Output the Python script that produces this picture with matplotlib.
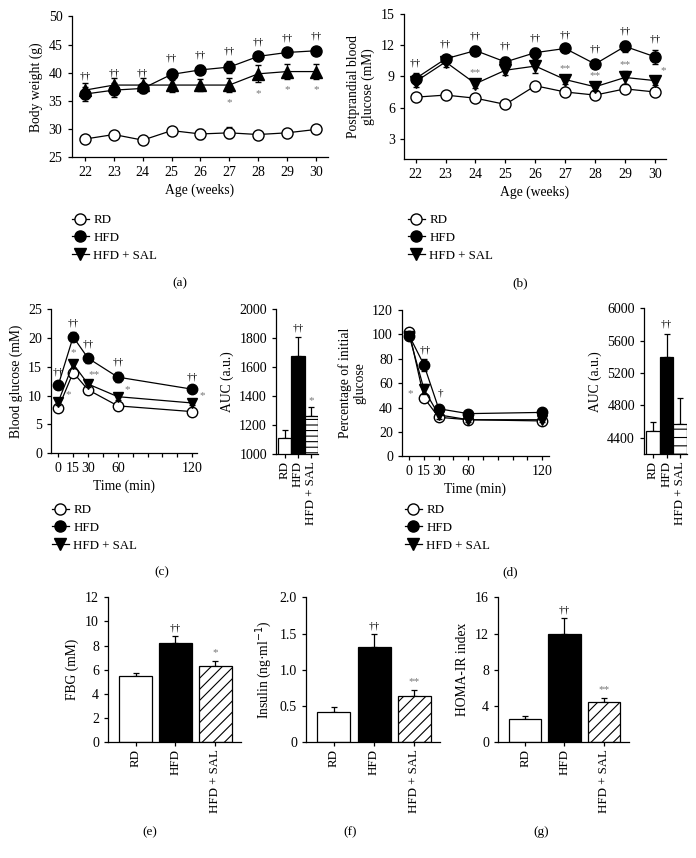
import numpy as np
import matplotlib
matplotlib.use("Agg")
import matplotlib.pyplot as plt
from matplotlib.lines import Line2D

plt.rcParams['font.family'] = ['Liberation Serif', 'DejaVu Serif']
plt.rcParams['font.size'] = 10
plt.rcParams['axes.labelsize'] = 9.8
plt.rcParams['xtick.labelsize'] = 10
plt.rcParams['ytick.labelsize'] = 10
plt.rcParams['hatch.linewidth'] = 0.8
plt.rcParams['axes.linewidth'] = 0.9
plt.rcParams['xtick.major.width'] = 0.9
plt.rcParams['ytick.major.width'] = 0.9
plt.rcParams['xtick.minor.width'] = 0.9
plt.rcParams['xtick.direction'] = 'out'
plt.rcParams['ytick.direction'] = 'out'
plt.rcParams['xtick.major.size'] = 3
plt.rcParams['ytick.major.size'] = 3
plt.rcParams['xtick.minor.size'] = 3

# ---------------- data ----------------
groups = ["RD", "HFD", "HFD + SAL"]

weeks = [22, 23, 24, 25, 26, 27, 28, 29, 30]
bw_rd = [28.2, 29.0, 28.0, 29.7, 29.1, 29.3, 29.0, 29.3, 29.9]
bw_rd_err = [0.5, 0.6, 0.5, 0.6, 0.9, 1.0, 0.6, 0.6, 0.5]
bw_hfd = [36.2, 36.9, 37.2, 39.7, 40.5, 41.0, 42.9, 43.6, 43.9]
bw_hfd_err = [1.3, 1.2, 0.9, 1.0, 0.8, 1.0, 0.7, 0.8, 0.7]
bw_sal = [36.9, 37.8, 37.8, 37.8, 37.8, 37.8, 39.8, 40.2, 40.2]
bw_sal_err = [1.2, 1.3, 1.3, 1.2, 1.1, 1.2, 1.5, 1.3, 1.3]
bw_star = ["", "", "", "", "", "*", "*", "*", "*"]

pg_rd = [7.0, 7.2, 6.9, 6.3, 8.1, 7.5, 7.2, 7.8, 7.5]
pg_rd_err = [0.3, 0.3, 0.3, 0.3, 0.4, 0.4, 0.3, 0.4, 0.3]
pg_hfd = [8.8, 10.7, 11.5, 10.4, 11.3, 11.7, 10.2, 11.9, 10.9]
pg_hfd_err = [0.5, 0.4, 0.4, 0.5, 0.4, 0.3, 0.4, 0.5, 0.7]
pg_sal = [8.5, 10.4, 8.3, 9.6, 10.0, 8.7, 8.0, 8.9, 8.6]
pg_sal_err = [0.5, 0.5, 0.4, 0.5, 0.7, 0.4, 0.4, 0.6, 0.4]
pg_star = ["", "", "**", "", "", "**", "**", "**", "*"]

ogtt_t = [0, 15, 30, 60, 120]
ogtt_rd = [7.8, 14.0, 11.0, 8.2, 7.2]
ogtt_rd_err = [0.5, 0.6, 0.5, 0.4, 0.4]
ogtt_hfd = [11.8, 20.2, 16.5, 13.2, 11.1]
ogtt_hfd_err = [0.6, 0.8, 0.8, 0.9, 0.5]
ogtt_sal = [8.9, 15.5, 12.0, 9.8, 8.7]
ogtt_sal_err = [0.6, 0.7, 0.6, 0.5, 0.4]
ogtt_star = ["*", "*", "**", "*", "*"]
ogtt_auc = [1110, 1680, 1266]
ogtt_auc_err = [55, 127, 58]
ogtt_auc_sig = ["", "††", "*"]

itt_t = [0, 15, 30, 60, 120]
itt_rd = [102, 48, 32, 30, 29]
itt_rd_err = [2, 3, 2, 2, 2]
itt_hfd = [99, 75, 39, 35, 36]
itt_hfd_err = [3, 5, 3, 2, 2]
itt_sal = [99, 55, 34, 30, 30]
itt_sal_err = [3, 4, 3, 2, 2]
itt_auc = [4483, 5394, 4569]
itt_auc_err = [115, 288, 320]
itt_auc_sig = ["", "††", ""]

fbg = [5.5, 8.2, 6.3]
fbg_err = [0.27, 0.6, 0.45]
fbg_sig = ["", "††", "*"]

insulin = [0.42, 1.32, 0.64]
insulin_err = [0.07, 0.17, 0.08]
insulin_sig = ["", "††", "**"]

homa = [2.55, 12.0, 4.4]
homa_err = [0.4, 1.7, 0.5]
homa_sig = ["", "††", "**"]

W, H = 696, 858
fig = plt.figure(figsize=(W / 100, H / 100), dpi=100)


def add_ax(l, r, t, b):
    ax = fig.add_axes([l / W, 1 - b / H, (r - l) / W, (b - t) / H])
    ax.spines['top'].set_visible(False)
    ax.spines['right'].set_visible(False)
    return ax


def series(ax, x, y, e, marker, face, ms=8, z=2):
    ax.errorbar(x, y, yerr=e, color='k', lw=0.9, marker=marker, mfc=face,
                mec='k', mew=1.0, ms=ms, capsize=2.2, elinewidth=0.9,
                capthick=0.9, zorder=z, clip_on=False)


def note(ax, x, y, s, dy, dx=0, color='k', size=8):
    ax.annotate(s, (x, y), xytext=(dx, dy), textcoords='offset points',
                ha='center', va='center', color=color, fontsize=size,
                annotation_clip=False)


GRAY = '#777777'

# ---------------- (a) ----------------
ax = add_ax(71.5, 328, 16.5, 157)
series(ax, weeks, bw_rd, bw_rd_err, 'o', 'white', z=2)
series(ax, weeks, bw_sal, bw_sal_err, '^', 'k', z=3)
series(ax, weeks, bw_hfd, bw_hfd_err, 'o', 'k', z=4)
ax.set_xlim(21.53, 30.42)
ax.set_ylim(25, 50)
ax.set_xticks(weeks)
ax.set_yticks(range(25, 51, 5))
ax.set_xlabel("Age (weeks)", labelpad=3)
ax.set_ylabel("Body weight (g)", labelpad=4)
for x, y, e in zip(weeks, bw_hfd, bw_hfd_err):
    note(ax, x, y + e, "††", 7.5)
for x, y, e, s in zip(weeks, bw_sal, bw_sal_err, bw_star):
    if s:
        note(ax, x, y - e, s, -8, color=GRAY)

# ---------------- (b) ----------------
ax = add_ax(404, 666, 14.3, 159.3)
series(ax, weeks, pg_rd, pg_rd_err, 'o', 'white', z=2)
series(ax, weeks, pg_sal, pg_sal_err, 'v', 'k', z=3)
series(ax, weeks, pg_hfd, pg_hfd_err, 'o', 'k', z=4)
ax.set_xlim(21.61, 30.37)
ax.set_ylim(1, 15)
ax.set_xticks(weeks)
ax.set_yticks([3, 6, 9, 12, 15])
ax.set_xlabel("Age (weeks)", labelpad=3)
ax.set_ylabel("Postprandial blood\nglucose (mM)", labelpad=4)
for x, y, e in zip(weeks, pg_hfd, pg_hfd_err):
    note(ax, x, y + e, "††", 7.5)
for x, y, e, s in zip(weeks, pg_sal, pg_sal_err, pg_star):
    if s == "**":
        note(ax, x, y + e, s, 5, color=GRAY)
    elif s:
        note(ax, x, y + e, s, 4, dx=6, color=GRAY)


# time axis: piecewise scale (0-60 every 15 min, 60-120 in 5 steps)
def t_fwd(t):
    t = np.asarray(t, dtype=float)
    return np.where(t <= 60, t / 15.0, 4 + (t - 60) / 12.0)


def t_inv(u):
    u = np.asarray(u, dtype=float)
    return np.where(u <= 4, u * 15.0, 60 + (u - 4) * 12.0)


def time_axis(ax, right):
    ax.set_xscale('function', functions=(t_fwd, t_inv))
    ax.set_xlim(-7.3, right)
    ax.set_xticks([0, 15, 30, 60, 120])
    ax.set_xticklabels(["0", "15", "30", "60", "120"])
    ax.set_xticks([45, 72, 84, 96, 108], minor=True)
    ax.set_xlabel("Time (min)", labelpad=3)


# ---------------- (c) ----------------
ax = add_ax(51, 197, 309.3, 453)
series(ax, ogtt_t, ogtt_rd, ogtt_rd_err, 'o', 'white', ms=7.5, z=2)
series(ax, ogtt_t, ogtt_sal, ogtt_sal_err, 'v', 'k', ms=7.5, z=3)
series(ax, ogtt_t, ogtt_hfd, ogtt_hfd_err, 'o', 'k', ms=7.5, z=4)
time_axis(ax, 123.8)
ax.set_ylim(0, 25)
ax.set_yticks(range(0, 26, 5))
ax.set_ylabel("Blood glucose (mM)", labelpad=4)
for x, y, e in zip(ogtt_t, ogtt_hfd, ogtt_hfd_err):
    note(ax, x, y + e, "††", 7)
for i, (x, y, e, s) in enumerate(zip(ogtt_t, ogtt_sal, ogtt_sal_err, ogtt_star)):
    if i == 1:
        note(ax, x, y + e, s, 5, color=GRAY)
    elif i == 2:
        note(ax, x, y + e, s, 4, dx=4, color=GRAY)
    else:
        note(ax, x, y, s, 5, dx=7, color=GRAY)

# AUC (c)
ax = add_ax(276, 318, 309.3, 454.3)
ax.bar([0, 1, 2], ogtt_auc, width=1.0, color=['white', 'black', 'white'],
       edgecolor='k', lw=0.9, hatch=[None, None, '---'], zorder=2)
ax.errorbar([0, 1, 2], ogtt_auc, yerr=[[0, 0, 0], ogtt_auc_err], fmt='none',
            ecolor='k', elinewidth=0.9, capsize=2.2, capthick=0.9, zorder=1)
ax.set_xlim(-0.65, 2.5)
ax.set_ylim(1000, 2000)
ax.set_yticks(range(1000, 2001, 200))
ax.set_xticks([0, 1, 2])
ax.set_xticklabels(groups, rotation=90, fontsize=9.3)
ax.tick_params(axis='x', pad=2)
ax.set_ylabel("AUC (a.u.)", labelpad=4)
for x, y, e, s in zip([0, 1, 2], ogtt_auc, ogtt_auc_err, ogtt_auc_sig):
    if s:
        note(ax, x, y + e, s, 7 if s == "††" else 5, color='k' if s == "††" else GRAY)

# ---------------- (d) ----------------
ax = add_ax(402, 549, 310, 456.3)
series(ax, itt_t, itt_rd, itt_rd_err, 'o', 'white', ms=7.5, z=2)
series(ax, itt_t, itt_sal, itt_sal_err, 'v', 'k', ms=7.5, z=3)
series(ax, itt_t, itt_hfd, itt_hfd_err, 'o', 'k', ms=7.5, z=4)
time_axis(ax, 125.6)
ax.set_ylim(0, 120)
ax.set_yticks(range(0, 121, 20))
ax.set_ylabel("Percentage of initial\nglucose", labelpad=4)
note(ax, itt_t[1], itt_hfd[1] + itt_hfd_err[1], "††", 6, dx=1)
note(ax, itt_t[1], itt_rd[1], "*", 3, dx=-10, color=GRAY)
note(ax, itt_t[2], itt_hfd[2], "†", 11, dx=1)

# AUC (d)
ax = add_ax(644, 687, 308.3, 454)
ax.bar([0, 1, 2], itt_auc, width=1.0, color=['white', 'black', 'white'],
       edgecolor='k', lw=0.9, hatch=[None, None, '--'], zorder=2)
ax.errorbar([0, 1, 2], itt_auc, yerr=[[0, 0, 0], itt_auc_err], fmt='none',
            ecolor='k', elinewidth=0.9, capsize=2.2, capthick=0.9, zorder=1)
ax.set_xlim(-0.65, 2.5)
ax.set_ylim(4200, 6000)
ax.set_yticks(range(4400, 6001, 400))
ax.set_xticks([0, 1, 2])
ax.set_xticklabels(groups, rotation=90, fontsize=9.3)
ax.tick_params(axis='x', pad=2)
ax.set_ylabel("AUC (a.u.)", labelpad=4)
for x, y, e, s in zip([0, 1, 2], itt_auc, itt_auc_err, itt_auc_sig):
    if s:
        note(ax, x, y + e, s, 7)


# ---------------- (e)(f)(g) ----------------
def bar_panel(l, r, vals, errs, sig, ylim, yticks, yticklabels, ylabel):
    ax = add_ax(l, r, 597.3, 742.3)
    ax.bar([0, 1, 2], vals, width=0.82, color=['white', 'black', 'white'],
           edgecolor='k', lw=0.9, hatch=[None, None, '///'], zorder=2)
    ax.errorbar([0, 1, 2], vals, yerr=[[0, 0, 0], errs], fmt='none',
                ecolor='k', elinewidth=0.9, capsize=2.5, capthick=0.9, zorder=1)
    ax.set_xlim(-0.69, 2.64)
    ax.set_ylim(*ylim)
    ax.set_yticks(yticks)
    ax.set_yticklabels(yticklabels)
    ax.set_xticks([0, 1, 2])
    ax.set_xticklabels(groups, rotation=90, fontsize=9.3)
    ax.tick_params(axis='x', pad=2)
    ax.set_ylabel(ylabel, labelpad=4)
    for x, y, e, s in zip([0, 1, 2], vals, errs, sig):
        if s:
            note(ax, x, y + e, s, 6, color='k' if s == "††" else GRAY)
    return ax


bar_panel(108, 241, fbg, fbg_err, fbg_sig, (0, 12), range(0, 13, 2),
          [str(v) for v in range(0, 13, 2)], "FBG (mM)")
bar_panel(306, 440, insulin, insulin_err, insulin_sig, (0, 2.0),
          [0, 0.5, 1.0, 1.5, 2.0], ["0", "0.5", "1.0", "1.5", "2.0"],
          "Insulin (ng·ml$^{-1}$)")
bar_panel(498, 629, homa, homa_err, homa_sig, (0, 16), range(0, 17, 4),
          [str(v) for v in range(0, 17, 4)], "HOMA-IR index")

# ---------------- legends ----------------
handles = [
    Line2D([], [], color='k', lw=0.9, marker='o', mfc='white', mec='k', ms=8),
    Line2D([], [], color='k', lw=0.9, marker='o', mfc='k', mec='k', ms=8),
    Line2D([], [], color='k', lw=0.9, marker='v', mfc='k', mec='k', ms=8),
]
for (lx, ty) in [(72, 214), (408, 214), (52, 504), (405, 504)]:
    fig.legend(handles, groups, loc='upper left',
               bbox_to_anchor=(lx / W, 1 - ty / H), frameon=False,
               handlelength=1.3, handletextpad=0.35, labelspacing=0.45,
               borderaxespad=0, borderpad=0, fontsize=9.3)

# ---------------- panel labels ----------------
for s, x, y in [("(a)", 180, 283), ("(b)", 520, 283), ("(c)", 162, 572),
                ("(d)", 510, 572), ("(e)", 150, 832), ("(f)", 350, 832),
                ("(g)", 541, 832)]:
    fig.text(x / W, 1 - y / H, s, ha='center', va='center', fontsize=9.5)

fig.savefig("out.png", dpi=100)
